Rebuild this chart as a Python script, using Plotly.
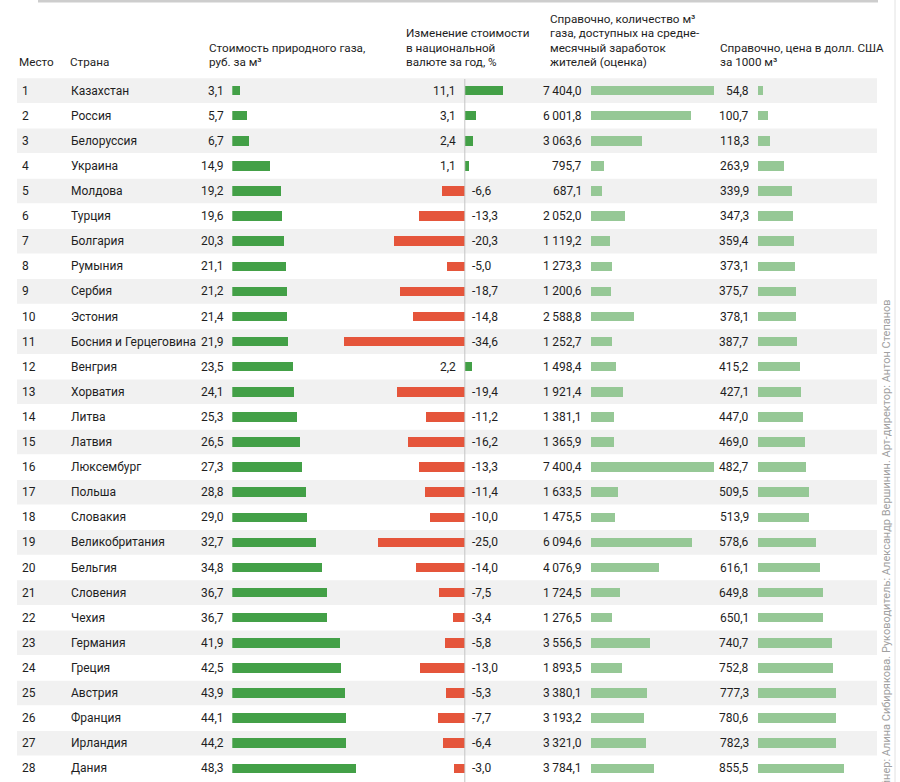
import plotly.graph_objects as go

# ---------------- data ----------------
ranks = list(range(1, 29))
countries = ["Казахстан", "Россия", "Белоруссия", "Украина", "Молдова", "Турция", "Болгария",
             "Румыния", "Сербия", "Эстония", "Босния и Герцеговина", "Венгрия", "Хорватия",
             "Литва", "Латвия", "Люксембург", "Польша", "Словакия", "Великобритания", "Бельгия",
             "Словения", "Чехия", "Германия", "Греция", "Австрия", "Франция", "Ирландия", "Дания"]
price_rub = [3.1, 5.7, 6.7, 14.9, 19.2, 19.6, 20.3, 21.1, 21.2, 21.4, 21.9, 23.5, 24.1, 25.3,
             26.5, 27.3, 28.8, 29.0, 32.7, 34.8, 36.7, 36.7, 41.9, 42.5, 43.9, 44.1, 44.2, 48.3]
change_pct = [11.1, 3.1, 2.4, 1.1, -6.6, -13.3, -20.3, -5.0, -18.7, -14.8, -34.6, 2.2, -19.4,
              -11.2, -16.2, -13.3, -11.4, -10.0, -25.0, -14.0, -7.5, -3.4, -5.8, -13.0, -5.3,
              -7.7, -6.4, -3.0]
m3_per_salary = [7404.0, 6001.8, 3063.6, 795.7, 687.1, 2052.0, 1119.2, 1273.3, 1200.6, 2588.8,
                 1252.7, 1498.4, 1921.4, 1381.1, 1365.9, 7400.4, 1633.5, 1475.5, 6094.6, 4076.9,
                 1724.5, 1276.5, 3556.5, 1893.5, 3380.1, 3193.2, 3321.0, 3784.1]
usd_per_1000 = [54.8, 100.7, 118.3, 263.9, 339.9, 347.3, 359.4, 373.1, 375.7, 378.1, 387.7,
                415.2, 427.1, 447.0, 469.0, 482.7, 509.5, 513.9, 578.6, 616.1, 649.8, 650.1,
                740.7, 752.8, 777.3, 780.6, 782.3, 855.5]

header_place = "Место"
header_country = "Страна"
header_col1 = ["Стоимость природного газа,", "руб. за м³"]
header_col2 = ["Изменение стоимости", "в национальной", "валюте за год, %"]
header_col3 = ["Справочно, количество м³", "газа, доступных на средне-",
               "месячный заработок", "жителей (оценка)"]
header_col4 = ["Справочно, цена в долл. США", "за 1000 м³"]
credits = ("Дизайнер: Алина Сибирякова. Руководитель: Александр Вершинин. "
           "Арт-директор: Антон Степанов")

# ---------------- layout helpers ----------------
W, H = 900, 782
FONT = "Roboto"
TXT = "#1e1e1e"
GREEN = "#43a047"
RED = "#e5553b"
LGREEN = "#96c896"
BAND = "#f1f1f1"
ROW0, PITCH = 90.6, 25.1
BARW = 0.38


def px(x):
    return x / W


def py(y):
    return 1 - y / H


def fmt(v, thousands=False):
    s = f"{abs(v):,.1f}" if thousands else f"{abs(v):.1f}"
    s = s.replace(",", "\u2009").replace(".", ",")
    return ("-" if v < 0 else "") + s


n = len(countries)
yi = list(range(n))

fig = go.Figure()

fig.add_trace(go.Bar(x=price_rub, y=yi, orientation="h", width=BARW,
                     marker=dict(color=GREEN, line_width=0), xaxis="x", yaxis="y",
                     hoverinfo="skip"))
fig.add_trace(go.Bar(x=change_pct, y=yi, orientation="h", width=BARW,
                     marker=dict(color=[GREEN if v >= 0 else RED for v in change_pct],
                                 line_width=0),
                     xaxis="x2", yaxis="y", hoverinfo="skip"))
fig.add_trace(go.Bar(x=m3_per_salary, y=yi, orientation="h", width=BARW,
                     marker=dict(color=LGREEN, line_width=0), xaxis="x3", yaxis="y",
                     hoverinfo="skip"))
fig.add_trace(go.Bar(x=usd_per_1000, y=yi, orientation="h", width=BARW,
                     marker=dict(color=LGREEN, line_width=0), xaxis="x4", yaxis="y",
                     hoverinfo="skip"))

c1_start, c1_scale, c1_end = 232.3, 2.575, 380
c2_zero, c2_scale, c2_lo, c2_hi = 464.8, 3.48, 330, 520
c3_start, c3_scale, c3_end = 590.5, 0.0166, 730
c4_start, c4_scale, c4_end = 758.0, 0.1, 870

hidden = dict(visible=False, fixedrange=True, showgrid=False, zeroline=False)
fig.update_layout(
    xaxis=dict(domain=[px(c1_start), px(c1_end)],
               range=[0, (c1_end - c1_start) / c1_scale], anchor="y", **hidden),
    xaxis2=dict(domain=[px(c2_lo), px(c2_hi)],
                range=[-(c2_zero - c2_lo) / c2_scale, (c2_hi - c2_zero) / c2_scale],
                anchor="y", **hidden),
    xaxis3=dict(domain=[px(c3_start), px(c3_end)],
                range=[0, (c3_end - c3_start) / c3_scale], anchor="y", **hidden),
    xaxis4=dict(domain=[px(c4_start), px(c4_end)],
                range=[0, (c4_end - c4_start) / c4_scale], anchor="y", **hidden),
    yaxis=dict(domain=[0, 1], range=[(H - ROW0) / PITCH, -ROW0 / PITCH], **hidden),
)

shapes = []
for i in yi:
    if i % 2 == 0:
        shapes.append(dict(type="rect", xref="paper", yref="y", x0=px(17), x1=px(877),
                           y0=i - 0.49, y1=i + 0.49, fillcolor=BAND, line_width=0,
                           layer="below"))
shapes.append(dict(type="line", xref="x2", yref="paper", x0=0, x1=0, y0=0, y1=py(79),
                   line=dict(color="#c4c4c4", width=1), layer="above"))
shapes.append(dict(type="line", xref="paper", yref="paper", x0=px(38), x1=px(878),
                   y0=py(1), y1=py(1), line=dict(color="#cdcdcd", width=3)))
shapes.append(dict(type="line", xref="paper", yref="paper", x0=px(895), x1=px(895),
                   y0=0, y1=1, line=dict(color="#e2e2e2", width=1)))

ann = []
DF = dict(family=FONT, size=12, color=TXT)
HF = dict(family=FONT, size=11.7, color=TXT)

for i in yi:
    ann.append(dict(xref="paper", yref="y", x=px(20), y=i, text=str(ranks[i]),
                    xanchor="left", yanchor="middle", showarrow=False, font=DF))
    ann.append(dict(xref="paper", yref="y", x=px(69), y=i, text=countries[i],
                    xanchor="left", yanchor="middle", showarrow=False, font=DF))
    ann.append(dict(xref="x", yref="y", x=0, y=i, text=fmt(price_rub[i]),
                    xanchor="right", yanchor="middle", xshift=-6, showarrow=False, font=DF))
    v = change_pct[i]
    if v >= 0:
        ann.append(dict(xref="x2", yref="y", x=0, y=i, text=fmt(v), xanchor="right",
                        yanchor="middle", xshift=-7, showarrow=False, font=DF))
    else:
        ann.append(dict(xref="x2", yref="y", x=0, y=i, text=fmt(v), xanchor="left",
                        yanchor="middle", xshift=5, showarrow=False, font=DF))
    ann.append(dict(xref="x3", yref="y", x=0, y=i, text=fmt(m3_per_salary[i], True),
                    xanchor="right", yanchor="middle", xshift=-7, showarrow=False, font=DF))
    ann.append(dict(xref="x4", yref="y", x=0, y=i, text=fmt(usd_per_1000[i]),
                    xanchor="right", yanchor="middle", xshift=-7, showarrow=False, font=DF))

LINE = 14.3


def header(lines, x):
    k = len(lines)
    for j, t in enumerate(lines):
        yc = 62 - (k - 1 - j) * LINE
        ann.append(dict(xref="paper", yref="paper", x=px(x), y=py(yc), text=t,
                        xanchor="left", yanchor="middle", showarrow=False, font=HF))


header([header_place], 17)
header([header_country], 68)
header(header_col1, 207)
header(header_col2, 404)
header(header_col3, 548)
header(header_col4, 718)

ann.append(dict(xref="paper", yref="paper", x=px(886), y=py(298), text=credits,
                textangle=-90, xanchor="center", yanchor="top", showarrow=False,
                font=dict(family=FONT, size=11, color="#a0a0a0")))

fig.update_layout(
    width=W, height=H, margin=dict(l=0, r=0, t=0, b=0),
    paper_bgcolor="white", plot_bgcolor="rgba(0,0,0,0)",
    showlegend=False, barmode="overlay", bargap=0,
    shapes=shapes, annotations=ann,
)

fig.write_html("out.html", config={"displayModeBar": False},
               post_script="document.body.style.margin='0';document.body.style.overflow='hidden';")
